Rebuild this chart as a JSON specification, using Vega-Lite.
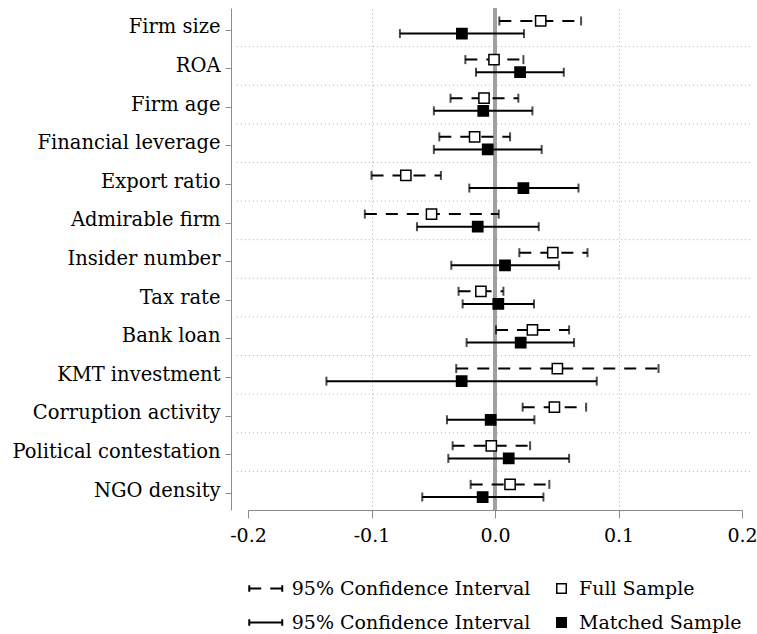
{
  "$schema": "https://vega.github.io/schema/vega-lite/v6.json",
  "width": 494,
  "height": 502,
  "autosize": {"type": "none"},
  "padding": {"left": 248, "top": 8, "right": 15, "bottom": 124},
  "background": "white",
  "config": {"view": {"stroke": null}, "font": "DejaVu Serif"},
  "data": {
    "values": [
      {"variable": "Firm size", "sample": "Full Sample", "est": 0.037, "lo": 0.0035, "hi": 0.0697},
      {"variable": "Firm size", "sample": "Matched Sample", "est": -0.0268, "lo": -0.077, "hi": 0.0235},
      {"variable": "ROA", "sample": "Full Sample", "est": -0.0008, "lo": -0.024, "hi": 0.023},
      {"variable": "ROA", "sample": "Matched Sample", "est": 0.0203, "lo": -0.0154, "hi": 0.0557},
      {"variable": "Firm age", "sample": "Full Sample", "est": -0.0089, "lo": -0.036, "hi": 0.0189},
      {"variable": "Firm age", "sample": "Matched Sample", "est": -0.0095, "lo": -0.0495, "hi": 0.0303},
      {"variable": "Financial leverage", "sample": "Full Sample", "est": -0.0165, "lo": -0.0451, "hi": 0.0122},
      {"variable": "Financial leverage", "sample": "Matched Sample", "est": -0.0059, "lo": -0.0495, "hi": 0.0378},
      {"variable": "Export ratio", "sample": "Full Sample", "est": -0.0722, "lo": -0.1, "hi": -0.0438},
      {"variable": "Export ratio", "sample": "Matched Sample", "est": 0.023, "lo": -0.0208, "hi": 0.0676},
      {"variable": "Admirable firm", "sample": "Full Sample", "est": -0.0514, "lo": -0.1054, "hi": 0.003},
      {"variable": "Admirable firm", "sample": "Matched Sample", "est": -0.014, "lo": -0.0632, "hi": 0.0354},
      {"variable": "Insider number", "sample": "Full Sample", "est": 0.0468, "lo": 0.0197, "hi": 0.0749},
      {"variable": "Insider number", "sample": "Matched Sample", "est": 0.0081, "lo": -0.0354, "hi": 0.0519},
      {"variable": "Tax rate", "sample": "Full Sample", "est": -0.0114, "lo": -0.0295, "hi": 0.0068},
      {"variable": "Tax rate", "sample": "Matched Sample", "est": 0.0027, "lo": -0.0262, "hi": 0.0316},
      {"variable": "Bank loan", "sample": "Full Sample", "est": 0.0303, "lo": 0.0008, "hi": 0.06},
      {"variable": "Bank loan", "sample": "Matched Sample", "est": 0.0208, "lo": -0.023, "hi": 0.064},
      {"variable": "KMT investment", "sample": "Full Sample", "est": 0.0505, "lo": -0.0314, "hi": 0.1324},
      {"variable": "KMT investment", "sample": "Matched Sample", "est": -0.027, "lo": -0.1365, "hi": 0.0824},
      {"variable": "Corruption activity", "sample": "Full Sample", "est": 0.0481, "lo": 0.0224, "hi": 0.0738},
      {"variable": "Corruption activity", "sample": "Matched Sample", "est": -0.0035, "lo": -0.0389, "hi": 0.0319},
      {"variable": "Political contestation", "sample": "Full Sample", "est": -0.003, "lo": -0.0343, "hi": 0.0284},
      {"variable": "Political contestation", "sample": "Matched Sample", "est": 0.0111, "lo": -0.0378, "hi": 0.06},
      {"variable": "NGO density", "sample": "Full Sample", "est": 0.0122, "lo": -0.0197, "hi": 0.044},
      {"variable": "NGO density", "sample": "Matched Sample", "est": -0.01, "lo": -0.0589, "hi": 0.0392}
    ]
  },
  "layer": [
    {
      "transform": [{"filter": "datum.sample == 'Full Sample' && datum.variable != 'NGO density'"}],
      "mark": {"type": "rule", "color": "#b0b0b0", "strokeWidth": 1, "strokeDash": [1, 3]},
      "encoding": {
        "y": {"field": "variable", "type": "nominal", "title": null, "bandPosition": 1, "sort": ["Firm size", "ROA", "Firm age", "Financial leverage", "Export ratio", "Admirable firm", "Insider number", "Tax rate", "Bank loan", "KMT investment", "Corruption activity", "Political contestation", "NGO density"], "scale": {"paddingInner": 0, "paddingOuter": 0}},
        "x": {"datum": -0.209, "type": "quantitative", "title": null, "scale": {"domain": [-0.2, 0.2], "nice": false, "zero": false}},
        "x2": {"datum": 0.208}
      }
    },
    {
      "mark": {"type": "rule", "color": "#a0a0a0", "strokeWidth": 2.5},
      "encoding": {
        "x": {"datum": 0, "type": "quantitative", "title": null}
      }
    },
    {
      "mark": {"type": "rule", "color": "black", "strokeWidth": 2},
      "encoding": {
        "y": {"field": "variable", "type": "nominal", "title": null, "sort": ["Firm size", "ROA", "Firm age", "Financial leverage", "Export ratio", "Admirable firm", "Insider number", "Tax rate", "Bank loan", "KMT investment", "Corruption activity", "Political contestation", "NGO density"]},
        "yOffset": {"field": "sample", "type": "nominal", "scale": {"paddingInner": 0, "paddingOuter": 0.53}},
        "x": {"field": "lo", "type": "quantitative", "title": null},
        "x2": {"field": "hi"},
        "strokeDash": {
          "field": "sample", "type": "nominal",
          "scale": {"domain": ["Full Sample", "Matched Sample"], "range": [[12, 9], [1, 0]]},
          "legend": {
            "title": null, "orient": "bottom", "direction": "vertical", "offset": 34,
            "symbolType": "M-2,0L2,0M-2,-0.4L-2,0.4M2,-0.4L2,0.4",
            "symbolSize": 272, "symbolOffset": 8.25, "symbolStrokeColor": "black", "symbolStrokeWidth": 2, "symbolFillColor": "transparent",
            "labelExpr": "'95% Confidence Interval'", "labelFontSize": 19, "labelFont": "DejaVu Serif", "labelColor": "black",
            "labelOffset": 16.5, "labelLimit": 400, "rowPadding": 14
          }
        }
      }
    },
    {
      "mark": {"type": "tick", "color": "black", "size": 9, "thickness": 2},
      "encoding": {
        "y": {"field": "variable", "type": "nominal", "title": null, "sort": ["Firm size", "ROA", "Firm age", "Financial leverage", "Export ratio", "Admirable firm", "Insider number", "Tax rate", "Bank loan", "KMT investment", "Corruption activity", "Political contestation", "NGO density"]},
        "yOffset": {"field": "sample", "type": "nominal", "scale": {"paddingInner": 0, "paddingOuter": 0.53}},
        "x": {"field": "lo", "type": "quantitative", "title": null}
      }
    },
    {
      "mark": {"type": "tick", "color": "black", "size": 9, "thickness": 2},
      "encoding": {
        "y": {"field": "variable", "type": "nominal", "title": null, "sort": ["Firm size", "ROA", "Firm age", "Financial leverage", "Export ratio", "Admirable firm", "Insider number", "Tax rate", "Bank loan", "KMT investment", "Corruption activity", "Political contestation", "NGO density"]},
        "yOffset": {"field": "sample", "type": "nominal", "scale": {"paddingInner": 0, "paddingOuter": 0.53}},
        "x": {"field": "hi", "type": "quantitative", "title": null}
      }
    },
    {
      "mark": {"type": "point", "shape": "square", "filled": true, "size": 105, "stroke": "black", "strokeWidth": 1.5, "opacity": 1},
      "encoding": {
        "y": {
          "field": "variable", "type": "nominal", "title": null,
          "sort": ["Firm size", "ROA", "Firm age", "Financial leverage", "Export ratio", "Admirable firm", "Insider number", "Tax rate", "Bank loan", "KMT investment", "Corruption activity", "Political contestation", "NGO density"],
          "axis": {
            "grid": false, "domainColor": "#8c8c8c", "tickColor": "#8c8c8c", "tickSize": 6, "offset": 17,
            "labelFontSize": 19.5, "labelFont": "DejaVu Serif", "labelColor": "black", "labelPadding": 5,
            "bandPosition": 0.57, "labelLimit": 400
          }
        },
        "yOffset": {"field": "sample", "type": "nominal", "scale": {"paddingInner": 0, "paddingOuter": 0.53}},
        "x": {
          "field": "est", "type": "quantitative", "title": null,
          "axis": {
            "values": [-0.2, -0.1, 0, 0.1, 0.2],
            "domainColor": "#8c8c8c", "tickColor": "#8c8c8c", "tickSize": 8,
            "labelFontSize": 19, "labelFont": "DejaVu Serif", "labelColor": "black", "labelPadding": 8, "labelFlush": false,
            "labelExpr": "replace(format(datum.value, '.1f'), '\u2212', '-')",
            "grid": true, "gridColor": "#a8a8a8", "gridDash": [1, 3],
            "gridOpacity": {"condition": {"test": "abs(datum.value) > 0.15 || datum.value == 0", "value": 0}, "value": 1}
          }
        },
        "fill": {
          "field": "sample", "type": "nominal",
          "scale": {"range": ["white", "black"]},
          "legend": {
            "title": null, "orient": "bottom", "direction": "vertical", "offset": 34,
            "symbolType": "square", "symbolSize": 90, "symbolOffset": 13, "symbolStrokeColor": "black", "symbolStrokeWidth": 1.5,
            "labelFontSize": 19, "labelFont": "DejaVu Serif", "labelColor": "black", "labelOffset": 8, "labelLimit": 400, "rowPadding": 14
          }
        }
      }
    }
  ]
}
